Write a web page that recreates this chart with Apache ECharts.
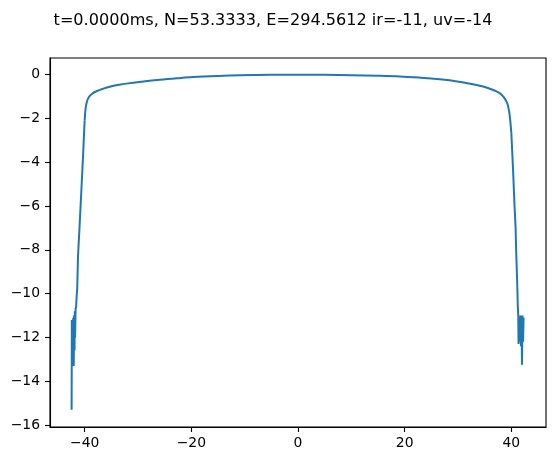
<!DOCTYPE html>
<html>
<head>
<meta charset="utf-8">
<script src="https://cdn.jsdelivr.net/npm/echarts@6/dist/echarts.min.js"></script>
<style>
  html, body { margin: 0; padding: 0; background: #fff; }
  #chart { width: 555px; height: 461px; }
</style>
</head>
<body>
<div id="chart"></div>
<script>
// profile: [x, value]
const leftEdge = [
  [-42.45, -15.3], [-42.4, -11.2], [-42.35, -13.0], [-42.3, -11.3], [-42.2, -12.9],
  [-42.15, -11.1], [-42.05, -13.3], [-42.0, -11.0], [-41.9, -12.6], [-41.85, -10.8],
  [-41.8, -12.0], [-41.7, -10.7], [-41.6, -10.6], [-41.5, -10.1], [-41.4, -9.8],
  [-41.25, -8.3], [-40.93, -6.8], [-40.62, -5.3], [-40.3, -3.7], [-40.1, -2.6],
  [-40.0, -2.1]
]
const middle = [
  [-40.0, -2.1], [-39.85, -1.6], [-39.6, -1.25], [-39.2, -1.02], [-38.6, -0.87],
  [-37.8, -0.76], [-36.5, -0.64], [-35.3, -0.55], [-33.5, -0.46], [-32.2, -0.41],
  [-29.0, -0.31], [-25.9, -0.23], [-22.5, -0.16], [-19.7, -0.11], [-15.0, -0.06],
  [-10.9, -0.03], [-5.0, -0.01], [0.0, 0.0], [5.0, -0.01], [10.0, -0.03],
  [15.0, -0.05], [19.1, -0.08], [23.0, -0.14], [26.6, -0.21], [28.4, -0.26],
  [30.8, -0.35], [32.8, -0.44], [34.7, -0.54], [36.6, -0.70], [37.8, -0.84],
  [38.5, -1.0], [38.9, -1.15], [39.3, -1.35], [39.6, -1.7], [39.8, -2.1],
  [40.0, -2.67]
]
const rightEdge = [
  [40.0, -2.67], [40.3, -4.2], [40.6, -6.0], [40.8, -7.0], [40.9, -8.0],
  [41.1, -9.5], [41.2, -10.5], [41.3, -11.0], [41.35, -12.3], [41.5, -11.1],
  [41.6, -12.2], [41.7, -11.0], [41.8, -12.4], [41.9, -11.0], [42.0, -13.25],
  [42.1, -11.0], [42.2, -12.2], [42.3, -11.1]
]

const xTicks = [-40, -20, 0, 20, 40]
const yTicks = [0, -2, -4, -6, -8, -10, -12, -14, -16]
const titleText = 't=0.0000ms, N=53.3333, E=294.5612 ir=-11, uv=-14'

const fmt = (v) => (v < 0 ? '\u2212' + Math.abs(v) : String(v))

const lineSeries = (data, smooth) => ({
  type: 'line',
  data,
  showSymbol: false,
  symbol: 'none',
  smooth,
  lineStyle: { color: '#1f77b4', width: 2 },
})

const chart = echarts.init(document.getElementById('chart'))
chart.setOption({
  animation: false,
  backgroundColor: '#fff',
  title: {
    text: titleText,
    left: 268,
    textAlign: 'center',
    top: 8,
    textStyle: { fontFamily: 'DejaVu Sans', fontSize: 16.1, fontWeight: 'normal', color: '#000' },
  },
  grid: {
    left: 50, right: 9, top: 58, bottom: 34,
    show: true, borderColor: '#000', borderWidth: 1.1,
  },
  xAxis: {
    type: 'value',
    min: -46.5,
    max: 46.5,
    axisLine: { show: true, onZero: false, lineStyle: { color: '#000', width: 1.1 } },
    axisTick: { show: true, inside: false, length: 5, lineStyle: { color: '#000', width: 1.1 }, customValues: xTicks },
    axisLabel: {
      customValues: xTicks, formatter: fmt, margin: 9,
      fontFamily: 'DejaVu Sans', fontSize: 13.9, color: '#000',
    },
    splitLine: { show: false },
  },
  yAxis: {
    type: 'value',
    min: -16.09,
    max: 0.76,
    axisLine: { show: true, onZero: false, lineStyle: { color: '#000', width: 1.1 } },
    axisTick: { show: true, inside: false, length: 5, lineStyle: { color: '#000', width: 1.1 }, customValues: yTicks },
    axisLabel: {
      customValues: yTicks, formatter: fmt, margin: 10,
      fontFamily: 'DejaVu Sans', fontSize: 13.9, color: '#000',
    },
    splitLine: { show: false },
  },
  series: [
    lineSeries(leftEdge, false),
    lineSeries(middle, 0.35),
    lineSeries(rightEdge, false),
  ],
})
</script>
</body>
</html>
